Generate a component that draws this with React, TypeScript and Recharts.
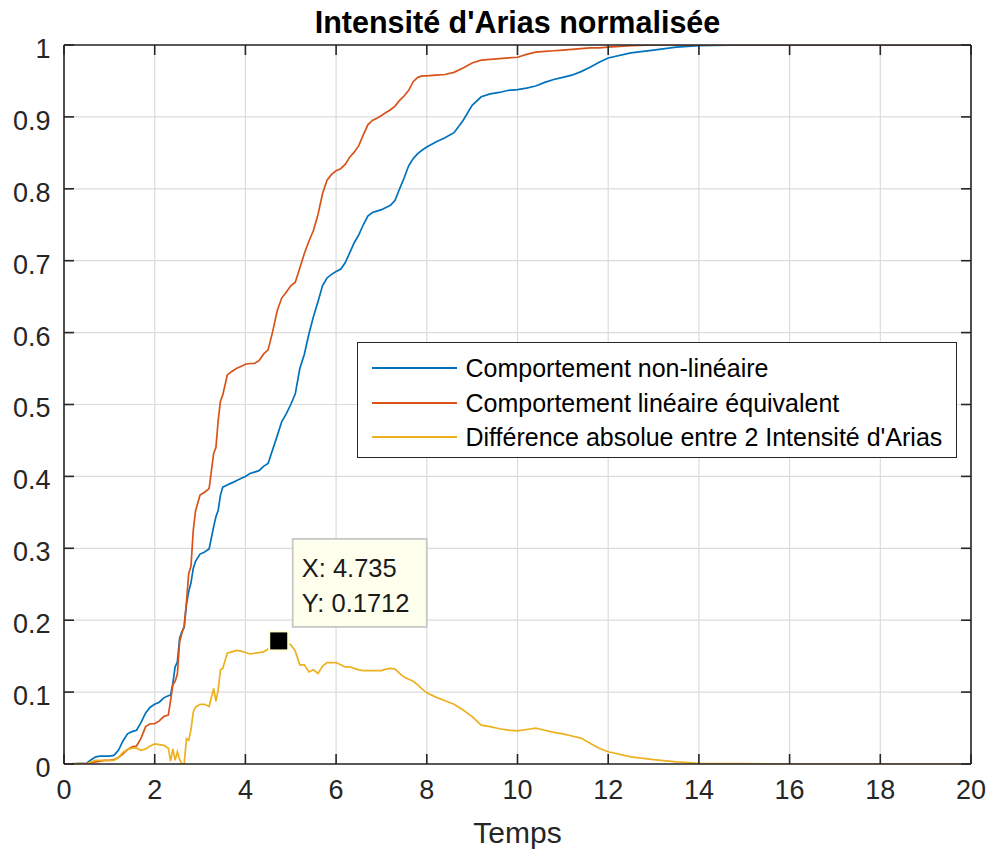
import React from 'react';
import { LineChart, Line, XAxis, YAxis, CartesianGrid, ReferenceDot, Label } from 'recharts';

const FONT = '"Liberation Sans", Arial, Helvetica, sans-serif';

const chartTitle = "Intensité d'Arias normalisée";
const xLabel = 'Temps';
const seriesNames = [
  'Comportement non-linéaire',
  'Comportement linéaire équivalent',
  "Différence absolue entre 2 Intensité d'Arias",
];
const seriesColors = ['#0072BD', '#D95319', '#EDB120'];

const times = [
  0, 0.5, 0.6, 0.7, 0.8, 0.9, 1.0, 1.1, 1.2, 1.3, 1.4, 1.5, 1.6, 1.7, 1.8, 1.9,
  2.0, 2.1, 2.2, 2.3, 2.35, 2.4, 2.45, 2.5, 2.55, 2.6, 2.65, 2.7, 2.75, 2.8, 2.85, 2.9,
  3.0, 3.1, 3.2, 3.3, 3.35, 3.4, 3.45, 3.5, 3.6, 3.7, 3.8, 3.9,
  4.0, 4.1, 4.2, 4.3, 4.4, 4.5, 4.6, 4.7, 4.8, 4.9,
  5.0, 5.1, 5.2, 5.3, 5.4, 5.5, 5.6, 5.7, 5.8, 5.9,
  6.0, 6.1, 6.2, 6.3, 6.4, 6.5, 6.6, 6.7, 6.8, 6.9,
  7.0, 7.1, 7.2, 7.3, 7.4, 7.5, 7.6, 7.7, 7.8, 7.9,
  8.0, 8.2, 8.4, 8.6, 8.8, 9.0, 9.2, 9.4, 9.6, 9.8,
  10.0, 10.2, 10.4, 10.6, 10.8, 11.0, 11.2, 11.4, 11.6, 11.8,
  12.0, 12.5, 13.0, 13.5, 14, 15, 16, 17, 18, 19, 20,
];

const nonLinear = [
  0, 0.001, 0.006, 0.010, 0.011, 0.011, 0.011, 0.012, 0.019, 0.032, 0.042, 0.045, 0.047, 0.058, 0.071, 0.079,
  0.083, 0.086, 0.092, 0.095, 0.096, 0.112, 0.135, 0.142, 0.175, 0.184, 0.190, 0.222, 0.240, 0.252, 0.272, 0.282,
  0.292, 0.295, 0.299, 0.330, 0.344, 0.353, 0.374, 0.385, 0.388, 0.391, 0.394, 0.397,
  0.400, 0.404, 0.406, 0.408, 0.414, 0.418, 0.437, 0.456, 0.476, 0.487,
  0.500, 0.515, 0.550, 0.570, 0.598, 0.622, 0.643, 0.665, 0.676, 0.681,
  0.685, 0.688, 0.697, 0.711, 0.725, 0.736, 0.750, 0.762, 0.767, 0.769,
  0.771, 0.774, 0.777, 0.784, 0.800, 0.815, 0.832, 0.842, 0.849, 0.854,
  0.858, 0.865, 0.871, 0.878, 0.895, 0.916, 0.928, 0.932, 0.934, 0.937,
  0.938, 0.940, 0.943, 0.948, 0.952, 0.955, 0.958, 0.963, 0.969, 0.976,
  0.982, 0.989, 0.993, 0.997, 0.999, 1.0, 1.0, 1.0, 1.0, 1.0, 1.0,
];

const linearEquivalent = [
  0, 0.001, 0.002, 0.003, 0.004, 0.005, 0.005, 0.006, 0.009, 0.014, 0.020, 0.024, 0.025, 0.036, 0.052, 0.056,
  0.056, 0.060, 0.066, 0.068, 0.088, 0.110, 0.115, 0.125, 0.170, 0.182, 0.192, 0.225, 0.265, 0.275, 0.325, 0.352,
  0.374, 0.378, 0.383, 0.432, 0.440, 0.478, 0.505, 0.513, 0.541, 0.546, 0.550, 0.553,
  0.556, 0.557, 0.557, 0.561, 0.570, 0.576, 0.601, 0.630, 0.648, 0.656,
  0.665, 0.670, 0.690, 0.710, 0.727, 0.742, 0.764, 0.793, 0.812, 0.820,
  0.825, 0.828, 0.834, 0.844, 0.851, 0.860, 0.875, 0.889, 0.895, 0.898,
  0.902, 0.906, 0.910, 0.915, 0.923, 0.929, 0.937, 0.949, 0.955, 0.957,
  0.957, 0.958, 0.959, 0.962, 0.968, 0.975, 0.979, 0.980, 0.981, 0.982,
  0.983, 0.987, 0.990, 0.991, 0.992, 0.993, 0.994, 0.995, 0.996, 0.996,
  0.997, 0.999, 1.0, 1.0, 1.0, 1.0, 1.0, 1.0, 1.0, 1.0, 1.0,
];

const absoluteDifference = [
  0, 0.000, 0.003, 0.005, 0.005, 0.005, 0.005, 0.005, 0.009, 0.016, 0.020, 0.022, 0.022, 0.019, 0.021, 0.025,
  0.028, 0.027, 0.026, 0.022, 0.004, 0.021, 0.005, 0.017, 0.006, 0.000, 0.000, 0.035, 0.033, 0.048, 0.072, 0.079,
  0.083, 0.083, 0.080, 0.105, 0.087, 0.103, 0.131, 0.133, 0.154, 0.156, 0.158, 0.157,
  0.155, 0.153, 0.154, 0.155, 0.156, 0.160, 0.164, 0.170, 0.170, 0.168,
  0.166, 0.157, 0.138, 0.138, 0.128, 0.131, 0.126, 0.136, 0.141, 0.141,
  0.141, 0.138, 0.135, 0.135, 0.133, 0.131, 0.130, 0.130, 0.130, 0.130,
  0.130, 0.132, 0.133, 0.132, 0.126, 0.121, 0.118, 0.115, 0.110, 0.104,
  0.099, 0.093, 0.088, 0.083, 0.075, 0.066, 0.054, 0.052, 0.049, 0.047,
  0.046, 0.048, 0.050, 0.047, 0.044, 0.042, 0.039, 0.036, 0.029, 0.022,
  0.017, 0.010, 0.006, 0.003, 0.001, 0.0005, 0, 0, 0, 0, 0,
];

const xTicks = [0, 2, 4, 6, 8, 10, 12, 14, 16, 18, 20];
const yTicks = [0, 0.1, 0.2, 0.3, 0.4, 0.5, 0.6, 0.7, 0.8, 0.9, 1];

const tipX = 4.735;
const tipY = 0.1712;

const data = times.map((t, i) => ({
  t,
  a: nonLinear[i],
  b: linearEquivalent[i],
  c: absoluteDifference[i],
}));

const AXIS = '#262626';

const XTick = (props: any) => {
  const { x, y, payload } = props;
  return (
    <text x={x} y={y} dy="0.71em" textAnchor="middle" fontSize={27} fill={AXIS} fontFamily={FONT}>
      {String(payload.value)}
    </text>
  );
};

const YTick = (props: any) => {
  const { x, y, payload } = props;
  return (
    <text x={x} y={y} dy="0.48em" textAnchor="end" fontSize={27} fill={AXIS} fontFamily={FONT}>
      {String(payload.value)}
    </text>
  );
};

const EmptyTick = () => <g />;

const TitleContent = (props: any) => {
  const vb = props.viewBox || {};
  return (
    <text
      x={vb.x + vb.width / 2}
      y={vb.y - 11}
      textAnchor="middle"
      fontSize={30.5}
      fontWeight="bold"
      fill="#000"
      fontFamily={FONT}
    >
      {chartTitle}
    </text>
  );
};

const XLabelContent = (props: any) => {
  const vb = props.viewBox || {};
  return (
    <text x={vb.x + vb.width / 2} y={vb.y + 79} textAnchor="middle" fontSize={30} fill={AXIS} fontFamily={FONT}>
      {xLabel}
    </text>
  );
};

const DataTip = (props: any) => {
  const { cx, cy } = props;
  if (cx == null || cy == null) return <g />;
  return (
    <g>
      <rect x={cx - 9.5} y={cy - 9.5} width={19} height={19} fill="#000" stroke="#ffffd6" strokeWidth={2} />
      <rect x={cx + 14} y={cy - 102} width={134} height={88} fill="#ffffee" stroke="#c8c8c8" strokeWidth={1.8} />
      <text x={cx + 23} y={cy - 64} fontSize={25.5} fill="#1a1a1a" fontFamily={FONT}>
        {`X: ${tipX}`}
      </text>
      <text x={cx + 23} y={cy - 29} fontSize={25.5} fill="#1a1a1a" fontFamily={FONT}>
        {`Y: ${tipY}`}
      </text>
    </g>
  );
};

const LegendBox = () => (
  <div
    style={{
      position: 'absolute',
      left: 357,
      top: 342,
      width: 600,
      height: 116,
      boxSizing: 'border-box',
      border: `1.5px solid ${AXIS}`,
      background: '#fff',
      paddingTop: 8,
      fontFamily: FONT,
    }}
  >
    {seriesNames.map((name, i) => (
      <div key={name} style={{ display: 'flex', alignItems: 'center', height: 34.5 }}>
        <div style={{ marginLeft: 13.5, width: 85, height: 0, borderTop: `2px solid ${seriesColors[i]}` }} />
        <span style={{ marginLeft: 9, fontSize: 25, color: '#000', whiteSpace: 'nowrap', lineHeight: '34.5px' }}>
          {name}
        </span>
      </div>
    ))}
  </div>
);

export default function App() {
  const axisLine = { stroke: AXIS, strokeWidth: 1.6 };
  return (
    <div style={{ position: 'absolute', left: 0, top: 0, width: 991, height: 856, background: '#fff' }}>
      <LineChart width={991} height={856} data={data} margin={{ top: 44, right: 19, bottom: 91, left: 63 }}>
        <CartesianGrid stroke="#dcdcdc" strokeWidth={1.2} />
        <XAxis
          dataKey="t"
          type="number"
          domain={[0, 20]}
          ticks={xTicks}
          interval={0}
          height={1}
          tickSize={-10}
          tickMargin={26}
          tick={<XTick />}
          axisLine={axisLine}
          tickLine={axisLine}
          allowDataOverflow
        >
          <Label content={<XLabelContent />} />
        </XAxis>
        <XAxis
          xAxisId="top"
          orientation="top"
          dataKey="t"
          type="number"
          domain={[0, 20]}
          ticks={xTicks}
          interval={0}
          height={1}
          tickSize={-10}
          tick={<EmptyTick />}
          axisLine={axisLine}
          tickLine={axisLine}
          allowDataOverflow
        >
          <Label content={<TitleContent />} />
        </XAxis>
        <YAxis
          type="number"
          domain={[0, 1]}
          ticks={yTicks}
          interval={0}
          width={1}
          tickSize={-10}
          tickMargin={23.5}
          tick={<YTick />}
          axisLine={axisLine}
          tickLine={axisLine}
          allowDataOverflow
        />
        <YAxis
          yAxisId="right"
          orientation="right"
          type="number"
          domain={[0, 1]}
          ticks={yTicks}
          interval={0}
          width={1}
          tickSize={-10}
          tick={<EmptyTick />}
          axisLine={axisLine}
          tickLine={axisLine}
          allowDataOverflow
        />
        <Line type="linear" dataKey="a" name={seriesNames[0]} stroke={seriesColors[0]} strokeWidth={1.7} dot={false} activeDot={false} isAnimationActive={false} />
        <Line type="linear" dataKey="b" name={seriesNames[1]} stroke={seriesColors[1]} strokeWidth={1.7} dot={false} activeDot={false} isAnimationActive={false} />
        <Line type="linear" dataKey="c" name={seriesNames[2]} stroke={seriesColors[2]} strokeWidth={1.7} dot={false} activeDot={false} isAnimationActive={false} />
        <ReferenceDot x={tipX} y={tipY} r={10} shape={(p: any) => <DataTip {...p} />} />
      </LineChart>
      <LegendBox />
    </div>
  );
}
